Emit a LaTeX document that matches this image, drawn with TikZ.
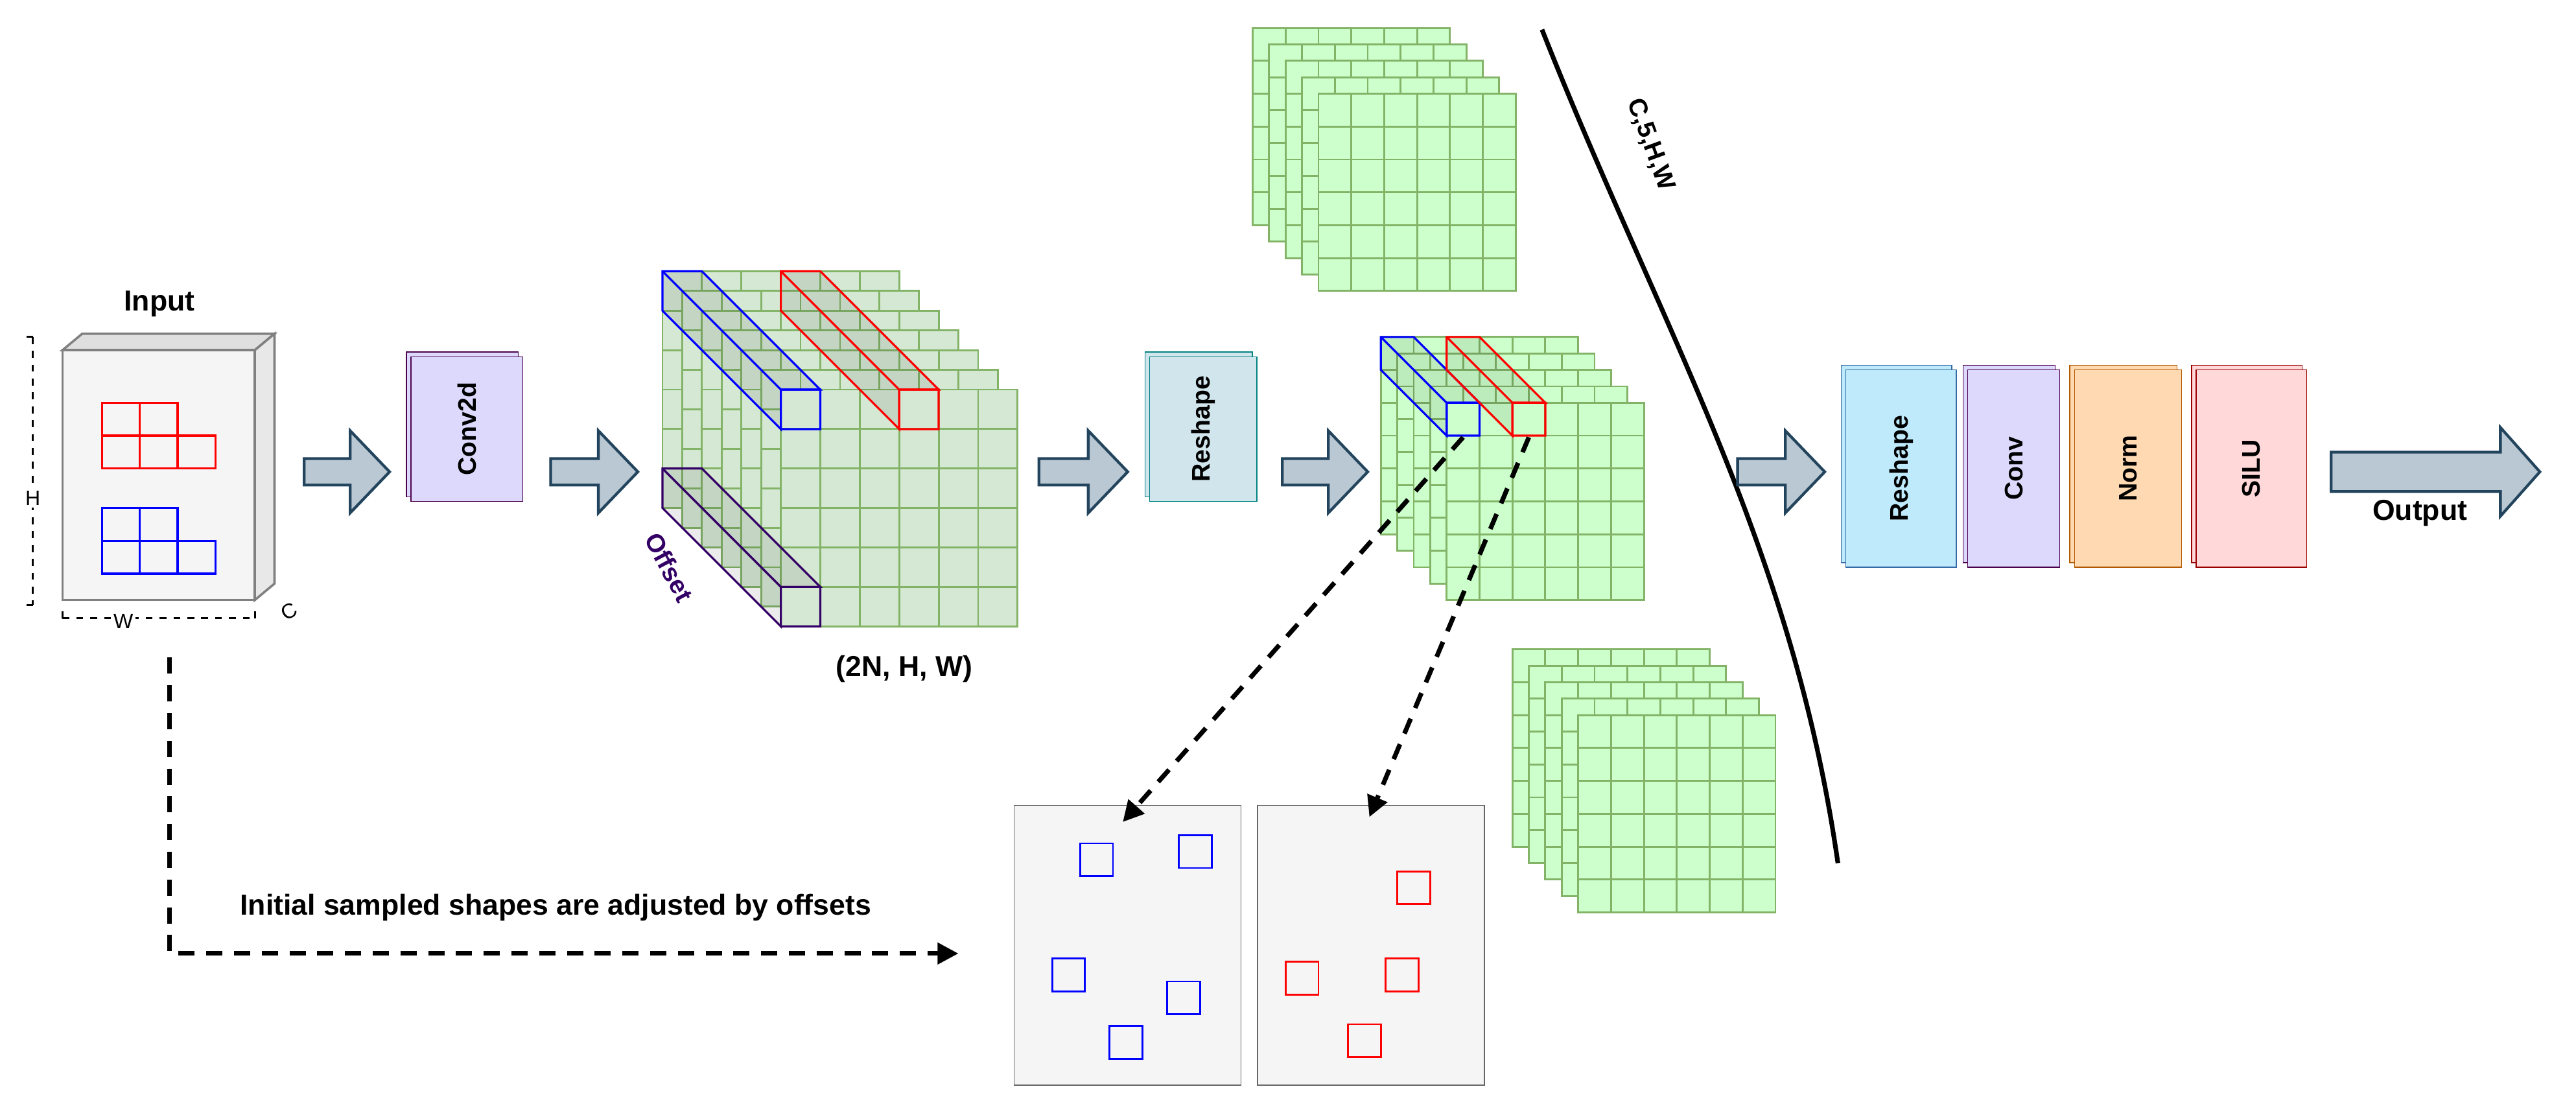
\documentclass[tikz,border=0pt]{standalone}
\usepackage{fontspec}
\setmainfont{Liberation Sans}
\usetikzlibrary{shadows,arrows.meta}
\definecolor{arrfill}{HTML}{BAC8D3}
\definecolor{arrline}{HTML}{23445D}
\definecolor{gridfill}{HTML}{CCFFCC}
\definecolor{gridline}{HTML}{82B366}
\definecolor{offfill}{HTML}{D5E8D4}
\definecolor{offpurple}{HTML}{330066}
\tikzset{
  lbl/.style={font=\bfseries\fontsize{12.5}{14}\selectfont, inner sep=1pt},
  block/.style={draw, rotate=90, font=\bfseries\fontsize{11}{12}\selectfont,
    inner sep=0pt, copy shadow={shadow xshift=-2pt, shadow yshift=2pt}},
  smp/.style={draw, thick, minimum size=0.5cm, inner sep=0pt},
  dasharr/.style={line width=2pt, dash pattern=on 7pt off 5pt, -{Triangle[length=9pt,width=9pt]}},
  pics/barrow/.style args={#1/#2/#3}{code={
    \filldraw[fill=arrfill, draw=arrline, line width=1.2pt]
      (0,-#2)--(#1-24,-#2)--(#1-24,-#3)--(#1,0)--(#1-24,#3)--(#1-24,#2)--(0,#2)--cycle;}}
}
% 3D tube through a stack: colour, back x, back y, depth, cell
\newcommand\tube[5]{
  \filldraw[draw=#1, fill=black, fill opacity=0.08, line width=0.9pt]
    (#2,#3)--(#2+#5,#3)--(#2+#5+#4,#3+#4)--(#2+#4,#3+#4)--(#2+#4,#3+#4+#5)--(#2,#3+#5)--cycle;
  \draw[#1, line width=0.9pt] (#2+#4,#3+#4) rectangle (#2+#4+#5,#3+#4+#5)
    (#2,#3)--(#2+#4,#3+#4);
}
% one grid layer: fill, cell, cells per side
\newcommand\gridlayer[3]{
  \filldraw[fill=#1, draw=gridline, line width=0.8pt] (0,0) rectangle (#2*#3,#2*#3);
  \foreach \i in {1,...,#3}{
    \draw[gridline, line width=0.8pt] (\i*#2,0)--(\i*#2,#2*#3) (0,\i*#2)--(#2*#3,\i*#2);}
}
% stack of grids: last layer index, back x, back y, step
\newcommand\gridstack[4]{
  \foreach \k in {0,...,#1}{
    \begin{scope}[shift={(#2+\k*#4,#3+\k*#4)}]
      \gridlayer{gridfill}{20}{6}
    \end{scope}}
}
% one input cell
\newcommand\cell[3]{\draw[#1, line width=0.9pt] (#2,#3) rectangle (#2+23,#3+20);}
\begin{document}
\begin{tikzpicture}[x=0.025cm, y=-0.025cm]
\useasboundingbox (0,0) rectangle (1567,670);

% input volume
\filldraw[fill=gray!25, draw=gray, line width=1pt] (38,213)--(50,203)--(167,203)--(155,213)--cycle;
\filldraw[fill=gray!18, draw=gray, line width=1pt] (155,213)--(167,203)--(167,355)--(155,365)--cycle;
\node[draw=gray, fill=gray!8, line width=1pt, minimum width=2.925cm, minimum height=3.8cm,
  inner sep=0pt] (input) at (96.5,289) {};
\node[lbl] (inputlbl) at (97,185) {Input};
\foreach \cx/\cy in {62/245,85/245,62/265,85/265,108/265} \cell{red}{\cx}{\cy};
\foreach \cx/\cy in {62/309,85/309,62/329,85/329,108/329} \cell{blue}{\cx}{\cy};
\draw[dashed, line width=0.8pt] (20,205)--(20,368) (16,205)--(24,205) (16,368)--(24,368);
\node[fill=white, inner sep=1pt, font=\fontsize{9}{10}\selectfont] (hlbl) at (20,303) {H};
\draw[dashed, line width=0.8pt] (38,376)--(155,376) (38,372)--(38,380) (155,372)--(155,380);
\node[fill=white, inner sep=1pt, font=\fontsize{9}{10}\selectfont] (wlbl) at (75,378) {W};
\node[rotate=30, font=\fontsize{9}{10}\selectfont] (clbl) at (176,372) {C};

\pic at (185,287) {barrow=52/8/25};
\node[block, fill=purple!10!blue!15, draw=violet!60!black, minimum width=2.2cm,
  minimum height=1.7cm] (conv2d) at (284,261) {Conv2d};
\pic at (335,287) {barrow=53/8/25};

% offset stack
\foreach \k in {0,...,6}{
  \begin{scope}[shift={(403+\k*12,165+\k*12)}]
    \gridlayer{offfill}{24}{6}
  \end{scope}}
\tube{blue}{403}{165}{72}{24}
\tube{red}{475}{165}{72}{24}
\tube{offpurple}{403}{285}{72}{24}
\node[rotate=-62, text=offpurple, font=\bfseries\fontsize{11}{12}\selectfont] (offlbl) at (407,345) {Offset};
\node[lbl] (shape1) at (550,407) {(2N, H, W)};

\pic at (632,287) {barrow=54/8/25};
\node[block, fill=cyan!25!teal!20, draw=teal, minimum width=2.2cm,
  minimum height=1.63cm] (reshape1) at (732,261) {Reshape};
\pic at (780,287) {barrow=52/8/25};

% split stacks
\gridstack{4}{762}{17}{10}
\gridstack{4}{840}{205}{10}
\gridstack{4}{920}{395}{10}
\tube{blue}{840}{205}{40}{20}
\tube{red}{880}{205}{40}{20}
\coordinate (bluept) at (890,266);
\coordinate (redpt) at (930,266);
\draw[line width=2pt] (938,18) .. controls (1010,200) and (1090,330) .. (1118,525);
\node[font=\bfseries\fontsize{11}{12}\selectfont, rotate=-70] (splitlbl) at (1004,88) {C,5,H,W};

\pic at (1057,287) {barrow=53/8/25};
\node[block, fill=cyan!25, draw=cyan!50!blue!80!black, minimum width=3cm,
  minimum height=1.68cm] (reshape2) at (1156.5,285) {Reshape};
\node[block, fill=purple!10!blue!15, draw=violet!60!black, minimum width=3cm,
  minimum height=1.4cm] (conv) at (1225,285) {Conv};
\node[block, fill=orange!30, draw=orange!70!black, minimum width=3cm,
  minimum height=1.63cm] (norm) at (1294.5,285) {Norm};
\node[block, fill=red!15, draw=red!60!black, minimum width=3cm,
  minimum height=1.68cm] (silu) at (1369.5,285) {SILU};
\pic at (1418,287) {barrow=127/12/27};
\node[lbl] (outlbl) at (1472,312) {Output};

% sampled positions
\node[draw=gray!80!black, fill=gray!8, minimum width=3.45cm, minimum height=4.25cm] (samp1) at (686,575) {};
\node[draw=gray!80!black, fill=gray!8, minimum width=3.45cm, minimum height=4.25cm] (samp2) at (834,575) {};
\foreach \p in {(667,523),(727,518),(650,593),(720,607),(685,634)}
  \node[smp, blue] at \p {};
\foreach \p in {(860,540),(792,595),(853,593),(830,633)}
  \node[smp, red] at \p {};

\draw[dasharr] (bluept) -- (683,500);
\draw[dasharr] (redpt) -- (833,497);
\coordinate (dstart) at (103,400);
\coordinate (dend) at (583,580);
\draw[dasharr] (dstart) |- (dend);
\node[lbl] (note) at (338,552) {Initial sampled shapes are adjusted by offsets};
\end{tikzpicture}
\end{document}
